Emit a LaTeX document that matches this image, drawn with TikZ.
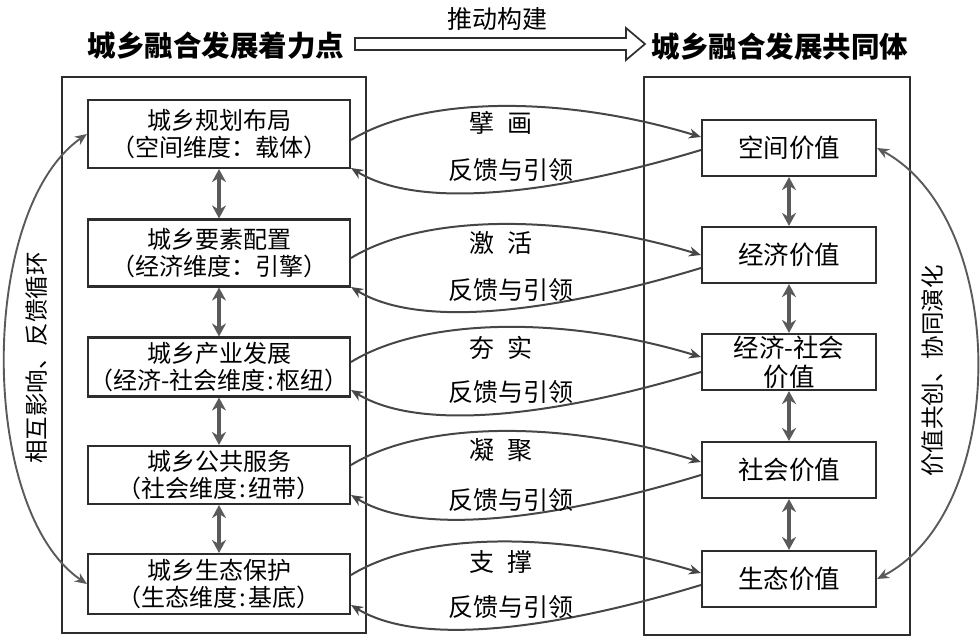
\documentclass[tikz,border=0pt]{standalone}
\usepackage{fontspec}
\setmainfont{Noto Sans CJK SC}
\usetikzlibrary{calc,arrows.meta,positioning}
\definecolor{boxgray}{RGB}{45,45,45}
\definecolor{flowgray}{RGB}{70,70,70}
\definecolor{linkgray}{RGB}{90,90,90}
\tikzset{
  gframe/.style={rectangle, draw=boxgray, line width=2.4pt, inner sep=0pt},
  lbox/.style  ={rectangle, draw=boxgray, line width=2.1pt, fill=white, inner sep=0pt,
                 minimum width=262, align=center, font=\fontsize{24}{27}\selectfont},
  rbox/.style  ={rectangle, draw=boxgray, line width=2.1pt, fill=white, inner sep=0pt,
                 minimum width=174, minimum height=56, align=center,
                 font=\fontsize{25.5}{29}\selectfont},
  ghead/.style ={font=\fontsize{28.5}{30}\selectfont\bfseries},
  glabel/.style={font=\fontsize{25}{27}\selectfont},
  gside/.style ={font=\fontsize{23.5}{26}\selectfont, rotate=90},
  gflow/.style ={-{Stealth[length=12pt, width=10pt]}, line width=2pt, flowgray},
  gboth/.style ={{Stealth[length=13pt, width=14pt]}-{Stealth[length=13pt, width=14pt]},
                 line width=3.2pt, linkgray},
  garc/.style  ={{Stealth[length=12pt, width=10pt]}-{Stealth[length=12pt, width=10pt]},
                 line width=1.9pt, linkgray},
  ghollow/.style={draw=boxgray, line width=1.7pt, fill=white, line join=miter},
}
\begin{document}
\begin{tikzpicture}[x=1pt, y=-1pt]
  \useasboundingbox (0,0) rectangle (980,637);
  % frames
  \node[gframe, minimum width=304, minimum height=556] (outL) at (214,355) {};
  \node[gframe, minimum width=266, minimum height=558] (outR) at (777,356) {};
  % headings
  \node[ghead] (hL) at (216,46) {城乡融合发展着力点};
  \node[ghead] (hR) at (780,47) {城乡融合发展共同体};
  \coordinate (pa) at (355,44); \coordinate (pb) at (645,44);
  \draw[ghollow] ($(pa)+(0,-6)$) -- ($(pb)+(-19,-6)$) -- ($(pb)+(-19,-16)$) -- (pb)
    -- ($(pb)+(-19,16)$) -- ($(pb)+(-19,6)$) -- ($(pa)+(0,6)$) -- cycle;
  \node[glabel] (push) at (497,19) {推动构建};
  % left column
  \node[lbox, minimum height=68] (L1) at (219,134) {城乡规划布局\\（空间维度：载体）};
  \node[lbox, minimum height=67] (L2) at (219,253) {城乡要素配置\\（经济维度：引擎）};
  \node[lbox, minimum height=59] (L3) at (219,367) {城乡产业发展\\（经济-社会维度\hspace{0.1em}:\hspace{0.1em}枢纽）};
  \node[lbox, minimum height=58] (L4) at (219,475) {城乡公共服务\\（社会维度\hspace{0.1em}:\hspace{0.1em}纽带）};
  \node[lbox, minimum height=60] (L5) at (219,584) {城乡生态保护\\（生态维度\hspace{0.1em}:\hspace{0.1em}基底）};
  % right column
  \node[rbox] (R1) at (789,148) {空间价值};
  \node[rbox] (R2) at (789,255) {经济价值};
  \node[rbox] (R3) at (789,362) {经济-社会\\价值};
  \node[rbox] (R4) at (789,470) {社会价值};
  \node[rbox] (R5) at (789,579) {生态价值};
  \foreach \a/\b in {1/2,2/3,3/4,4/5} {
    \draw[gboth] (L\a) -- (L\b);
    \draw[gboth] (R\a) -- (R\b);
  }
  % flows between the columns
  \foreach \i/\su/\eu/\sl/\el/\u/\l/\w in {
      1/6/-11/2/34/123/170/{擘\hspace{0.5em}画},
      2/5/0/13/34/243/290/{激\hspace{0.5em}活},
      3/-5/-5/10/23/348/392/{夯\hspace{0.5em}实},
      4/-10/-8/5/20/450/500/{凝\hspace{0.5em}聚},
      5/-9/-6/6/21/562/607/{支\hspace{0.5em}撑}} {
    \draw[gflow] ($(L\i.east)+(0,\su)$) .. controls +(70,-43) and +(-142,-43) .. ($(R\i.west)+(0,\eu)$);
    \draw[gflow] ($(R\i.west)+(0,\sl)$) .. controls +(-142,43) and +(70,43) .. ($(L\i.east)+(0,\el)$);
    \node[glabel] (up\i) at (501,\u) {\w};
    \node[glabel] (fb\i) at (511,\l) {反馈与引领};
  }
  % side loops
  \draw[garc] (L1.west) .. controls (-22,210) and (-22,510) .. (L5.west);
  \draw[garc] (R1.east) .. controls (1010,220) and (1010,510) .. (R5.east);
  \node[gside] (sL) at (37,358) {相互影响、反馈循环};
  \node[gside] (sR) at (933,371) {价值共创、协同演化};
\end{tikzpicture}
\end{document}
